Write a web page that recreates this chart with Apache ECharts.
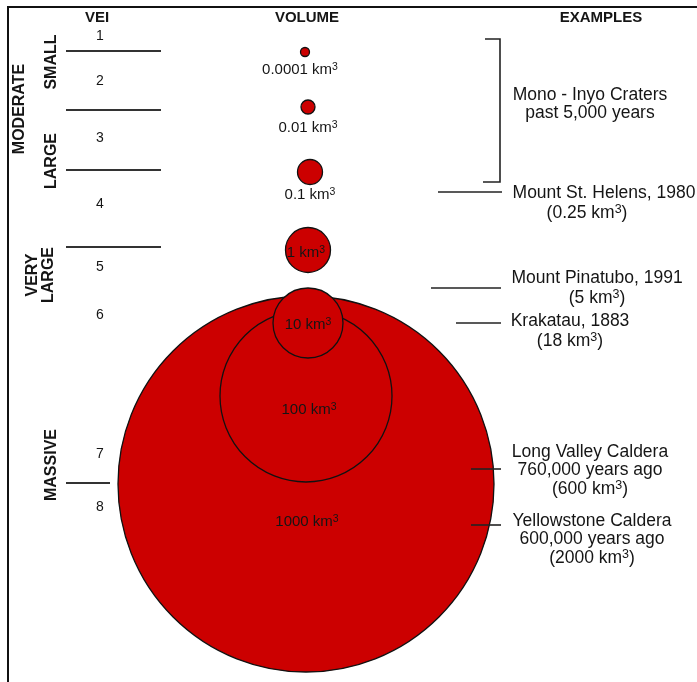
<!DOCTYPE html>
<html><head><meta charset="utf-8">
<script src="https://cdn.jsdelivr.net/npm/echarts@6/dist/echarts.min.js"></script>
<style>html,body{margin:0;padding:0;background:#fff}#c{width:697px;height:682px}</style>
</head><body><div id="c"></div>
<script>
// ---------- data ----------
const columnHeaders = ['VEI', 'VOLUME', 'EXAMPLES'];
const veiLevels = ['1', '2', '3', '4', '5', '6', '7', '8'];
const sizeClasses = ['MODERATE', 'SMALL', 'LARGE', 'VERY\nLARGE', 'MASSIVE'];
const volumes = [0.0001, 0.01, 0.1, 1, 10, 100, 1000]; // km3
const exampleNames = [
  ['Mono - Inyo Craters', 'past 5,000 years'],
  ['Mount St. Helens, 1980'],
  ['Mount Pinatubo, 1991'],
  ['Krakatau, 1883'],
  ['Long Valley Caldera', '760,000 years ago'],
  ['Yellowstone Caldera', '600,000 years ago']
];
const exampleVolumes = [null, '0.25', '5', '18', '600', '2000']; // km3

// ---------- layout (diagram units, 1 unit = 1 px) ----------
const W = 697, H = 682;
const headerPos = [[97, 18], [307, 18], [601, 18]];
const veiLabelPos = [[100, 36], [100, 81], [100, 138], [100, 204], [100, 267], [100, 315], [100, 454], [100, 507]];
const veiDividers = [[66, 161, 51], [66, 161, 110], [66, 161, 170], [66, 161, 247], [66, 110, 483]];
const classLabelPos = [[20, 109], [52, 62], [52, 161], [41, 275], [52, 465]];
const circleCenter = [[305, 52], [308, 107], [310, 172], [308, 250], [308, 323], [306, 396], [306, 484]];
const circleRadius = [4.5, 7, 12.5, 22.5, 35, 86, 188];
const volLabelPos = [[300, 70], [308, 128], [310, 195], [306, 253], [308, 325], [309, 410], [307, 522]];
const exampleLine = [null, [438, 502, 192], [431, 501, 288], [456, 501, 323], [471, 501, 469], [471, 501, 525]];
const exampleNameX = [590, 604, 597, 570, 590, 592];
const exampleVolX = [590, 587, 597, 570, 590, 592];
const exampleTopY = [95, 193, 278, 321, 452, 521];
const exampleStep = [18, 20, 20, 20, 18.5, 18.5];
const bracket = [[485, 39], [500, 39], [500, 182], [483, 182]];
const frame = [[8, H], [8, 7], [W, 7]];

const FONT = '"Liberation Sans", Arial, Helvetica, sans-serif';
const INK = '#151515';

function supRich(size, supSize) {
  return {
    t: { fontSize: size, fontFamily: FONT, fill: INK, lineHeight: size + 2 },
    s: { fontSize: supSize, fontFamily: FONT, fill: INK, verticalAlign: 'top', lineHeight: supSize }
  };
}
function txt(api, pos, text, o) {
  const c = api.coord([pos[0], pos[1]]);
  const style = {
    text: text, fill: INK,
    font: (o.weight || 'normal') + ' ' + o.size + 'px ' + FONT,
    align: o.align || 'center', verticalAlign: 'middle'
  };
  if (o.lineHeight) style.lineHeight = o.lineHeight;
  if (o.rich) style.rich = o.rich;
  return { type: 'text', x: c[0], y: c[1], rotation: o.rotation || 0, style: style };
}
function seg(api, x1, x2, y, color, lw) {
  const a = api.coord([x1, y]), b = api.coord([x2, y]);
  return { type: 'line', shape: { x1: a[0], y1: a[1], x2: b[0], y2: b[1] }, style: { stroke: color, lineWidth: lw } };
}
function poly(api, pts, color, lw) {
  return { type: 'polyline', shape: { points: pts.map(p => api.coord(p)) }, style: { stroke: color, lineWidth: lw, fill: null } };
}

const chart = echarts.init(document.getElementById('c'), null, { renderer: 'canvas' });
const base = { type: 'custom', coordinateSystem: 'cartesian2d', silent: true, animation: false, clip: false };

chart.setOption({
  animation: false,
  backgroundColor: '#fff',
  grid: { left: 0, right: 0, top: 0, bottom: 0 },
  xAxis: { type: 'value', min: 0, max: W, show: false },
  yAxis: { type: 'value', min: 0, max: H, inverse: true, show: false },
  series: [
    // frame + bracket
    Object.assign({}, base, {
      data: [[0, 0]],
      renderItem: (p, api) => ({ type: 'group', children: [poly(api, frame, '#111', 2), poly(api, bracket, '#222', 1.6)] })
    }),
    // column headers
    Object.assign({}, base, {
      data: columnHeaders.map((h, i) => [i, 0]),
      renderItem: (p, api) => txt(api, headerPos[p.dataIndex], columnHeaders[p.dataIndex], { size: 15, weight: 'bold' })
    }),
    // VEI numbers
    Object.assign({}, base, {
      data: veiLevels.map((v, i) => [i, 0]),
      renderItem: (p, api) => txt(api, veiLabelPos[p.dataIndex], veiLevels[p.dataIndex], { size: 14 })
    }),
    // VEI dividers
    Object.assign({}, base, {
      data: veiDividers.map((d, i) => [i, 0]),
      renderItem: (p, api) => { const d = veiDividers[p.dataIndex]; return seg(api, d[0], d[1], d[2], '#333', 2); }
    }),
    // size classes (rotated)
    Object.assign({}, base, {
      data: sizeClasses.map((s, i) => [i, 0]),
      renderItem: (p, api) => txt(api, classLabelPos[p.dataIndex], sizeClasses[p.dataIndex], { size: 16, weight: 'bold', rotation: Math.PI / 2, lineHeight: 16 })
    }),
    // volume circles (largest first so smaller ones sit on top)
    Object.assign({}, base, {
      data: volumes.map((v, i) => [v, i]).reverse(),
      renderItem: (p, api) => {
        const i = api.value(1);
        const c = api.coord(circleCenter[i]);
        const s = api.size([circleRadius[i], circleRadius[i]]);
        return { type: 'circle', shape: { cx: c[0], cy: c[1], r: s[0] }, style: { fill: '#cc0000', stroke: '#111', lineWidth: 1.3 } };
      }
    }),
    // volume labels
    Object.assign({}, base, {
      data: volumes.map((v, i) => [v, i]),
      renderItem: (p, api) => {
        const i = api.value(1);
        return txt(api, volLabelPos[i], '{t|' + String(volumes[i]) + ' km}{s|3}', { size: 15, rich: supRich(15, 10.5) });
      }
    }),
    // example leader lines
    Object.assign({}, base, {
      data: exampleLine.map((l, i) => [i, 0]).filter((d, i) => exampleLine[i]),
      renderItem: (p, api) => { const l = exampleLine[api.value(0)]; return seg(api, l[0], l[1], l[2], '#222', 1.6); }
    }),
    // example texts
    Object.assign({}, base, {
      data: exampleNames.map((n, i) => [i, 0]),
      renderItem: (p, api) => {
        const i = api.value(0);
        const kids = [];
        const names = exampleNames[i];
        names.forEach((line, k) => {
          kids.push(txt(api, [exampleNameX[i], exampleTopY[i] + k * exampleStep[i]], line, { size: 17.5 }));
        });
        if (exampleVolumes[i]) {
          const y = exampleTopY[i] + names.length * exampleStep[i];
          kids.push(txt(api, [exampleVolX[i], y], '{t|(' + exampleVolumes[i] + ' km}{s|3}{t|)}', { size: 17.5, rich: supRich(17.5, 12.5) }));
        }
        return { type: 'group', children: kids };
      }
    })
  ]
});
</script></body></html>
